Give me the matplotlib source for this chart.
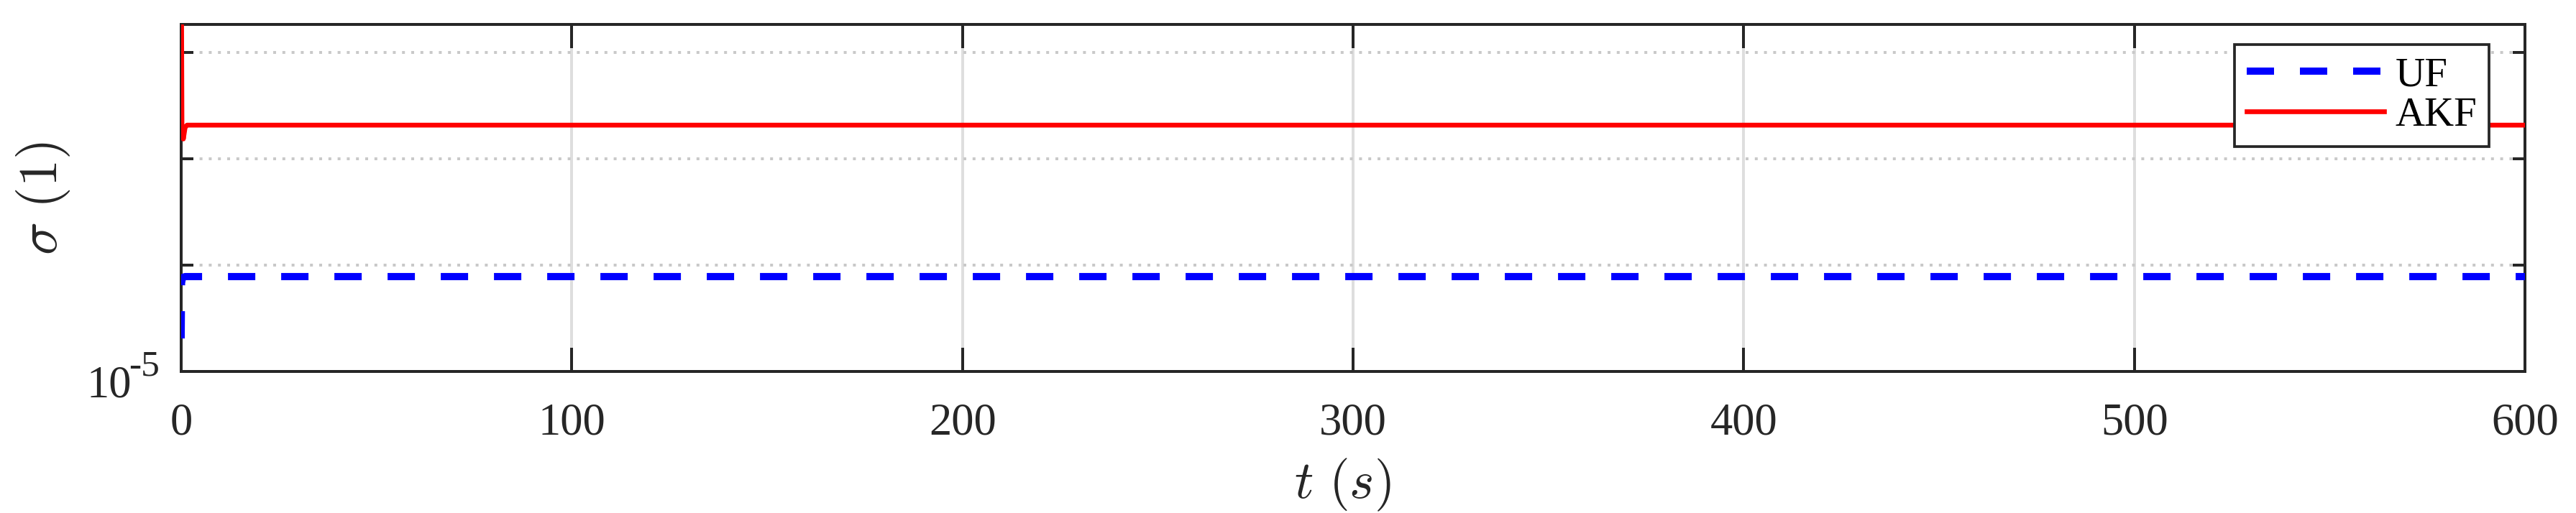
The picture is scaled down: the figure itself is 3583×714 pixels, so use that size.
import numpy as np
import matplotlib
matplotlib.use("Agg")
import matplotlib.pyplot as plt
from matplotlib.ticker import FixedLocator, NullFormatter

# values (log y axis)
t_uf = [0.0, 0.1, 0.3, 0.6, 1.0, 600.0]
sigma_uf = [1.24e-5, 1.78e-5, 1.83e-5, 1.85e-5, 1.856e-5, 1.856e-5]

t_akf = [0.0, 0.2, 0.55, 1.0, 1.5, 600.0]
sigma_akf = [2.0e-4, 5.0e-5, 4.55e-5, 4.9e-5, 4.98e-5, 4.98e-5]

x_ticks = [0, 100, 200, 300, 400, 500, 600]
y_major = [1e-5]
y_base, y_exp = "10", "-5"
y_minor = [2e-5, 4e-5, 8e-5]

ink = "#262626"
plt.rcParams["font.family"] = ["Liberation Serif", "DejaVu Serif"]

fig = plt.figure(figsize=(35.83, 7.14), dpi=100)
ax = fig.add_axes([0.07033, 0.27591, 0.90985, 0.67647])

ax.plot(t_uf, sigma_uf, color="#0000ff", lw=7.2, dashes=(3.8, 3.6),
        solid_capstyle="butt", label="UF", zorder=3)
ax.plot(t_akf, sigma_akf, color="#ff0000", lw=4.8, label="AKF", zorder=3)

ax.set_yscale("log")
ax.set_xlim(0, 600)
ax.set_ylim(1e-5, 9.6e-5)

ax.xaxis.set_major_locator(FixedLocator(x_ticks))
ax.yaxis.set_major_locator(FixedLocator(y_major))
ax.yaxis.set_major_formatter(NullFormatter())
ax.yaxis.set_minor_locator(FixedLocator(y_minor))
ax.yaxis.set_minor_formatter(NullFormatter())
ax.xaxis.set_minor_locator(FixedLocator([]))

# MATLAB-style "10^-5" label: base and superscript as separate texts
ax.annotate(y_base, xy=(0, y_major[0]), xycoords=("axes fraction", "data"),
            xytext=(-49.7, -25.9), textcoords="offset points",
            ha="right", va="baseline", fontsize=45, color=ink)
ax.annotate(y_exp, xy=(0, y_major[0]), xycoords=("axes fraction", "data"),
            xytext=(-21.6, -3.6), textcoords="offset points",
            ha="right", va="baseline", fontsize=37, color=ink)

ax.tick_params(axis="x", which="major", direction="in", length=23.8, width=2.88,
               top=True, color=ink, labelcolor=ink, labelsize=45, pad=31)
ax.tick_params(axis="y", which="major", direction="in", length=12.2, width=2.88,
               right=True, color=ink)
ax.tick_params(axis="y", which="minor", direction="in", length=12.2, width=2.88,
               right=True, color=ink)

for sp in ax.spines.values():
    sp.set_linewidth(2.88)
    sp.set_color(ink)

ax.grid(True, which="major", axis="x", color="#dedede", lw=2.88, ls="-", zorder=0)
ax.grid(True, which="minor", axis="y", color="#c9c9c9", lw=2.88,
        ls=(0, (1, 2.2)), zorder=0)
ax.set_axisbelow(True)

ax.set_xlabel(r"$t\ (s)$", fontsize=53, color=ink, math_fontfamily="cm")
ax.set_ylabel(r"$\sigma\ (1)$", fontsize=55, color=ink, math_fontfamily="cm")
ax.xaxis.set_label_coords(0.4954, -0.245)
ax.yaxis.set_label_coords(-0.0466, 0.5)

leg = ax.legend(loc="upper right", bbox_to_anchor=(0.9847, 0.942),
                borderaxespad=0, fontsize=41, handlelength=3.35,
                handletextpad=0.27, labelspacing=0.06, borderpad=0.3,
                fancybox=False, framealpha=1)
leg.get_frame().set_edgecolor(ink)
leg.get_frame().set_linewidth(2.7)
for txt in leg.get_texts():
    txt.set_color("black")

fig.savefig("out.png", dpi=100)
